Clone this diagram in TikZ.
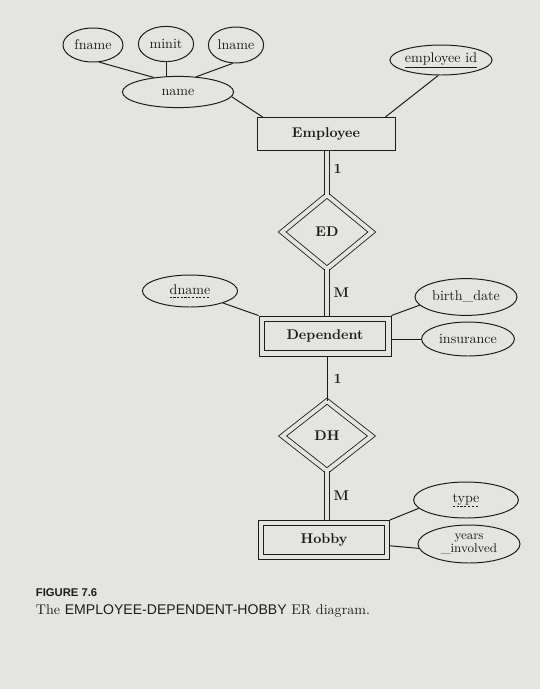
\documentclass[tikz,border=0pt]{standalone}
\usepackage{fontspec}
\setsansfont{Liberation Sans}
\usetikzlibrary{shapes.geometric,calc}
\definecolor{paper}{RGB}{228,228,225}
\definecolor{ink}{RGB}{28,28,28}
\newcommand\dul[1]{\setbox0=\hbox{#1}\rlap{\raisebox{-2.5pt}{\hbox to\wd0{\xleaders\hbox{\rule{1.6pt}{0.4pt}\hskip1pt}\hfill}}}\box0}
\tikzset{attr/.style={ellipse,draw=ink,text=ink,inner sep=0pt,line width=.7pt},
  ent/.style={rectangle,draw=ink,text=ink,font=\bfseries,line width=.7pt,inner sep=0pt},
  rel/.style={diamond,draw=ink,text=ink,font=\bfseries,line width=.6pt,double=paper,double distance=1mm,inner sep=0pt},
  link/.style={draw=ink,line width=.7pt},
  dlink/.style={draw=ink,line width=.6pt,double=paper,double distance=1.2mm},
  card/.style={right,text=ink,font=\bfseries,xshift=1pt}}

\begin{document}
\begin{tikzpicture}[x=0.25mm,y=-0.25mm]
\fill[paper] (0,0) rectangle (540,689);
\useasboundingbox (0,0) rectangle (540,689);
\node[attr,minimum width=15mm,minimum height=8.5mm] (fname) at (93,45) {fname};
\node[attr,minimum width=13.8mm,minimum height=8.8mm] (minit) at (166,44) {minit};
\node[attr,minimum width=13.8mm,minimum height=9mm] (lname) at (236,45) {lname};
\node[attr,minimum width=27.8mm,minimum height=7.8mm] (name) at (178,92) {name};
\node[attr,minimum width=24.5mm,minimum height=7.5mm] (eid) at (441,60) {\underline{employee id}};
\node[ent,minimum width=34.5mm,minimum height=8.3mm] (E) at (326,134) {Employee};
\node[rel,minimum width=22.5mm,minimum height=18.5mm] (ED) at (327,232) {ED};
\node[attr,minimum width=23.8mm,minimum height=8mm] (dname) at (190,291) {\dul{dname}};
\node[attr,minimum width=25.5mm,minimum height=9.2mm] (birth) at (466,297) {birth\_date};
\node[attr,minimum width=23.2mm,minimum height=8.5mm] (ins) at (468,339) {insurance};
\node[ent,minimum width=33mm,minimum height=10mm] (D) at (325,336) {Dependent};
\draw[link] ($(D.north west)+(6,6)$) rectangle ($(D.south east)+(-6,-6)$);
\node[rel,minimum width=22.3mm,minimum height=17.5mm] (DH) at (327,436) {DH};
\node[ent,minimum width=32.8mm,minimum height=9.8mm] (H) at (324,540) {Hobby};
\draw[link] ($(H.north west)+(6,6)$) rectangle ($(H.south east)+(-6,-6)$);
\node[attr,minimum width=26.2mm,minimum height=9mm] (type) at (466,500) {\dul{type}};
\node[attr,minimum width=25.5mm,minimum height=9.5mm,align=center,font=\small\linespread{.9}\selectfont] (years) at (469,544) {years\\\_involved};
\draw[link] (fname.-70) -- (name.149);
\draw[link] (minit.south) -- (minit.south |- name.north);
\draw[link] (lname.-100) -- (name.40);
\draw[link] (name.-5) -- ($(E.north west)+(6,0)$);
\draw[link] (eid.-100) -- ($(E.north east)+(-10,0)$);
\draw[dlink] (E.south -| ED.north) -- node[card,pos=.4] {1} (ED.north);
\draw[dlink] (ED.south) -- node[card] {M} (ED.south |- D.north);
\draw[link] (dname.-20) -- (D.north west);
\draw[link] (birth.190) -- (D.north east);
\draw[link] (D.east |- ins.west) -- (ins.west);
\draw[link] (D.south -| DH.north) -- node[card] {1} (DH.north);
\draw[dlink] (DH.south) -- node[card] {M} (DH.south |- H.north);
\draw[link] (type.190) -- (H.north east);
\draw[link] (H.-5) -- (years.185);
\node[anchor=west,text=ink,font=\sffamily\footnotesize\bfseries] (fig) at (31,593) {FIGURE 7.6};
\node[anchor=west,text=ink] (cap) at (31,611) {The {\sffamily EMPLOYEE-DEPENDENT-HOBBY} ER diagram.};
\end{tikzpicture}
\end{document}
